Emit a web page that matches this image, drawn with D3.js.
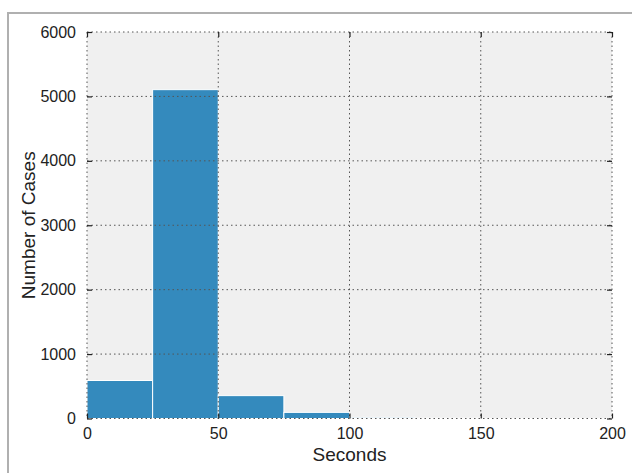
<!DOCTYPE html>
<html>
<head>
<meta charset="utf-8">
<script src="https://cdn.jsdelivr.net/npm/d3@7/dist/d3.min.js"></script>
<style>
html,body{margin:0;padding:0;background:#fff;}
svg{display:block;font-family:"Liberation Sans",Arial,Helvetica,sans-serif;}
</style>
</head>
<body>
<svg id="chart" width="632" height="473"></svg>
<script>
const binStarts = [0, 25, 50, 75, 100, 125, 150, 175];
const binWidth = 25;
const counts = [590, 5105, 355, 95, 18, 4, 1, 1];
const xTicks = [0, 50, 100, 150, 200];
const yTicks = [0, 1000, 2000, 3000, 4000, 5000, 6000];
const xLabel = "Seconds";
const yLabel = "Number of Cases";

const svg = d3.select("#chart");
const m = {left: 87, right: 612, top: 32, bottom: 418.5};

// outer figure frame
svg.append("rect").attr("x", 8).attr("y", 13).attr("width", 700).attr("height", 600)
  .attr("fill", "#fff").attr("stroke", "#b0b0b0").attr("stroke-width", 2);

const x = d3.scaleLinear().domain([0, 200]).range([m.left, m.right]);
const y = d3.scaleLinear().domain([0, 6000]).range([m.bottom, m.top]);

svg.append("rect").attr("x", m.left).attr("y", m.top)
  .attr("width", m.right - m.left).attr("height", m.bottom - m.top)
  .attr("fill", "#f0f0f0");

// bars
svg.append("g").selectAll("rect").data(binStarts.map((s, i) => ({s, v: counts[i]})))
  .join("rect")
  .attr("x", d => x(d.s))
  .attr("width", d => x(d.s + binWidth) - x(d.s))
  .attr("y", d => y(d.v))
  .attr("height", d => y(0) - y(d.v))
  .attr("fill", "#348ABD")
  .attr("stroke", "#ffffff")
  .attr("stroke-width", 1);

// grid
const grid = svg.append("g").attr("stroke", "#555").attr("stroke-width", 1)
  .attr("stroke-dasharray", "1.5,3").attr("fill", "none");
xTicks.forEach(t => grid.append("line").attr("x1", x(t)).attr("x2", x(t)).attr("y1", m.top).attr("y2", m.bottom));
yTicks.forEach(t => grid.append("line").attr("y1", y(t)).attr("y2", y(t)).attr("x1", m.left).attr("x2", m.right));

// axes with inward ticks
const fmt = d3.format("d");
const ax = (g, axis) => { g.call(axis); g.select(".domain").remove(); g.selectAll(".tick line").attr("stroke", "#222").attr("stroke-width", 1.2); };
svg.append("g").attr("transform", `translate(0,${m.bottom})`)
  .call(g => ax(g, d3.axisBottom(x).tickValues(xTicks).tickFormat(fmt).tickSize(-5).tickPadding(9)))
  .selectAll("text").attr("font-size", 16).attr("fill", "#222").attr("font-family", "Liberation Sans, Arial, sans-serif");
svg.append("g").attr("transform", `translate(0,${m.top})`)
  .call(g => ax(g, d3.axisTop(x).tickValues(xTicks).tickSize(-5).tickFormat("")));
svg.append("g").attr("transform", `translate(${m.left},0)`)
  .call(g => ax(g, d3.axisLeft(y).tickValues(yTicks).tickFormat(fmt).tickSize(-5).tickPadding(11)))
  .selectAll("text").attr("font-size", 16).attr("fill", "#222").attr("font-family", "Liberation Sans, Arial, sans-serif");
svg.append("g").attr("transform", `translate(${m.right},0)`)
  .call(g => ax(g, d3.axisRight(y).tickValues(yTicks).tickSize(-5).tickFormat("")));

// labels
svg.append("text").attr("x", (m.left + m.right) / 2).attr("y", 461)
  .attr("text-anchor", "middle").attr("font-size", 19).attr("fill", "#222").text(xLabel);
svg.append("text").attr("transform", `translate(35,${(m.top + m.bottom) / 2}) rotate(-90)`)
  .attr("text-anchor", "middle").attr("font-size", 19).attr("fill", "#222").text(yLabel);
</script>
</body>
</html>
